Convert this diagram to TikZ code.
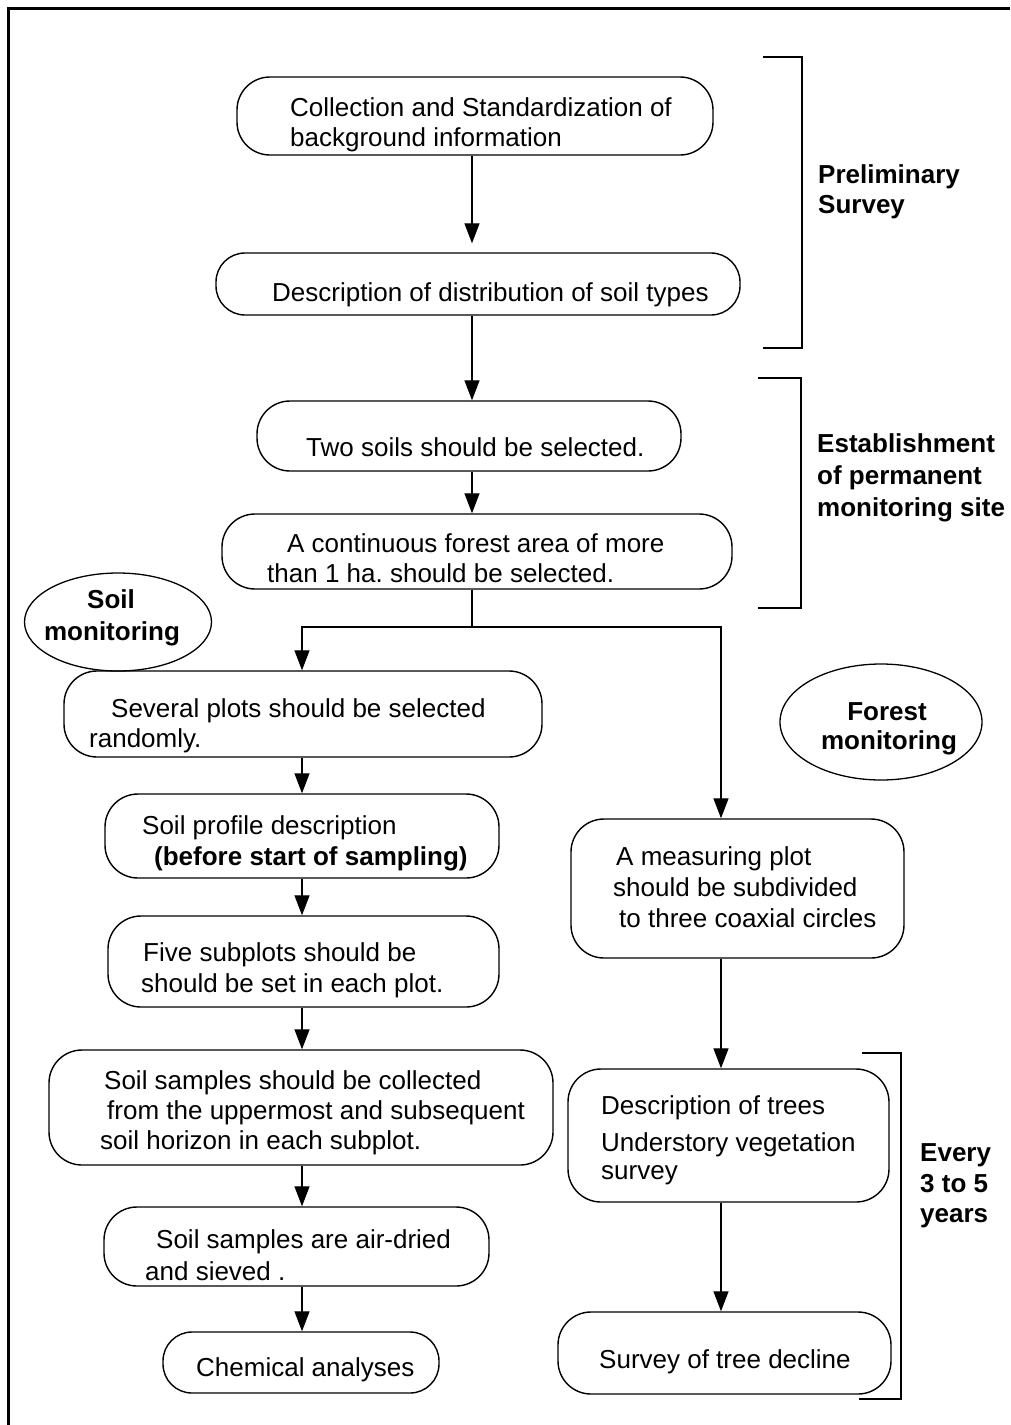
\documentclass[tikz,border=0pt]{standalone}
\usepackage{fontspec}
\setmainfont{Liberation Sans}
\usetikzlibrary{arrows.meta,shapes.geometric}
\frenchspacing
\begin{document}
\begin{tikzpicture}[x=1pt,y=-1pt,
  box/.style={draw,line width=1.4pt,rounded corners=33pt,inner sep=0pt},
  sbox/.style={box,rounded corners=29pt},
  oval/.style={draw,line width=1.3pt,ellipse,inner sep=0pt},
  txt/.style={anchor=base west,inner sep=0pt,font=\fontsize{26}{31}\selectfont},
  btxt/.style={txt,font=\fontsize{26}{31}\selectfont\bfseries},
  ctxt/.style={btxt,anchor=base},
  arr/.style={line width=1.3pt,-{Triangle[length=20pt,width=15pt]}},
  ln/.style={line width=1.3pt},
  brk/.style={line width=1.8pt}]
\useasboundingbox (0,0) rectangle (1010,1425);
% frame
\draw[line width=3pt] (8.5,1425) -- (8.5,8) -- (1010,8);
% columns
\coordinate (cT) at (472,0);
\coordinate (cL) at (302,0);
\coordinate (cR) at (721,0);
\coordinate (split) at (472,627);
% boxes
\node[box,minimum width=476pt,minimum height=78pt] (b1) at (475,116) {};
\node[sbox,minimum width=524pt,minimum height=62pt] (b2) at (478,284) {};
\node[box,minimum width=424pt,minimum height=70pt] (b3) at (469,436) {};
\node[box,minimum width=510pt,minimum height=75pt] (b4) at (477,551.5) {};
\node[box,minimum width=478pt,minimum height=86pt] (b5) at (303,714) {};
\node[box,minimum width=394pt,minimum height=84pt] (b6) at (302,836) {};
\node[box,minimum width=391pt,minimum height=91pt] (b7) at (303.5,961.5) {};
\node[box,minimum width=504pt,minimum height=115pt] (b8) at (301,1107.5) {};
\node[box,minimum width=385pt,minimum height=79pt] (b9) at (296.5,1246.5) {};
\node[sbox,minimum width=276pt,minimum height=61pt] (b10) at (301,1362.5) {};
\node[box,minimum width=333pt,minimum height=139pt] (m1) at (737.5,888.5) {};
\node[box,minimum width=321pt,minimum height=133pt] (m2) at (728.5,1135.5) {};
\node[box,minimum width=333pt,minimum height=82pt] (m3) at (724.5,1353) {};
\node[oval,minimum width=187pt,minimum height=98pt] (soil) at (118,622) {};
\node[oval,minimum width=202pt,minimum height=116pt] (forest) at (881,722) {};
% texts
\node[txt] (t1a) at (290,116) {Collection and Standardization of};
\node[txt] (t1b) at (290,146) {background information};
\node[txt] (t2) at (272,301) {Description of distribution of soil types};
\node[txt] (t3) at (306,456) {Two soils should be selected.};
\node[txt] (t4a) at (287,552) {A continuous forest area of more};
\node[txt] (t4b) at (267,582) {than 1 ha. should be selected.};
\node[ctxt] (ts1) at (111,608) {Soil};
\node[ctxt] (ts2) at (112,640) {monitoring};
\node[txt] (t5a) at (111,717) {Several plots should be selected};
\node[txt] (t5b) at (89,747) {randomly.};
\node[txt] (t6a) at (142,834) {Soil profile description};
\node[btxt] (t6b) at (154,865) {(before start of sampling)};
\node[txt] (t7a) at (143,961) {Five subplots should be};
\node[txt] (t7b) at (141,992) {should be set in each plot.};
\node[txt] (t8a) at (104,1089) {Soil samples should be collected};
\node[txt] (t8b) at (107,1119) {from the uppermost and subsequent};
\node[txt] (t8c) at (100,1149) {soil horizon in each subplot.};
\node[txt] (t9a) at (156,1248) {Soil samples are air-dried};
\node[txt] (t9b) at (145,1280) {and sieved .};
\node[txt] (t10) at (196,1376) {Chemical analyses};
\node[ctxt] (tf1) at (887,720) {Forest};
\node[ctxt] (tf2) at (889,749) {monitoring};
\node[txt] (tm1a) at (616,865) {A measuring plot};
\node[txt] (tm1b) at (613,896) {should be subdivided};
\node[txt] (tm1c) at (619,927) {to three coaxial circles};
\node[txt] (tm2a) at (601,1114) {Description of trees};
\node[txt] (tm2b) at (601,1151) {Understory vegetation};
\node[txt] (tm2c) at (601,1179) {survey};
\node[txt] (tm3) at (599,1368) {Survey of tree decline};
% bracket labels
\node[btxt] (l1a) at (818,183) {Preliminary};
\node[btxt] (l1b) at (818,213) {Survey};
\node[btxt] (l2a) at (817,452) {Establishment};
\node[btxt] (l2b) at (817,484) {of permanent};
\node[btxt] (l2c) at (817,516) {monitoring site};
\node[btxt] (l3a) at (920,1161) {Every};
\node[btxt] (l3b) at (920,1192) {3 to 5};
\node[btxt] (l3c) at (920,1222) {years};
% brackets
\draw[brk] (763,57) -- (802,57) -- (802,348) -- (763,348);
\draw[brk] (758,378) -- (801,378) -- (801,608) -- (758,608);
\draw[brk] (862,1053) -- (901,1053) -- (901,1399) -- (859,1399);
% arrows
\draw[arr,shorten >=9pt] (b1.south -| cT) -- (b2.north -| cT);
\draw[arr] (b2.south -| cT) -- (b3.north -| cT);
\draw[arr] (b3.south -| cT) -- (b4.north -| cT);
\draw[ln] (b4.south -| cT) -- (split);
\draw[arr] (split) -| (b5.north -| cL);
\draw[arr] (split) -| (m1.north -| cR);
\draw[arr] (b5.south -| cL) -- (b6.north -| cL);
\draw[arr] (b6.south -| cL) -- (b7.north -| cL);
\draw[arr] (b7.south -| cL) -- (b8.north -| cL);
\draw[arr] (b8.south -| cL) -- (b9.north -| cL);
\draw[arr] (b9.south -| cL) -- (b10.north -| cL);
\draw[arr] (m1.south -| cR) -- (m2.north -| cR);
\draw[arr] (m2.south -| cR) -- (m3.north -| cR);
\end{tikzpicture}
\end{document}
